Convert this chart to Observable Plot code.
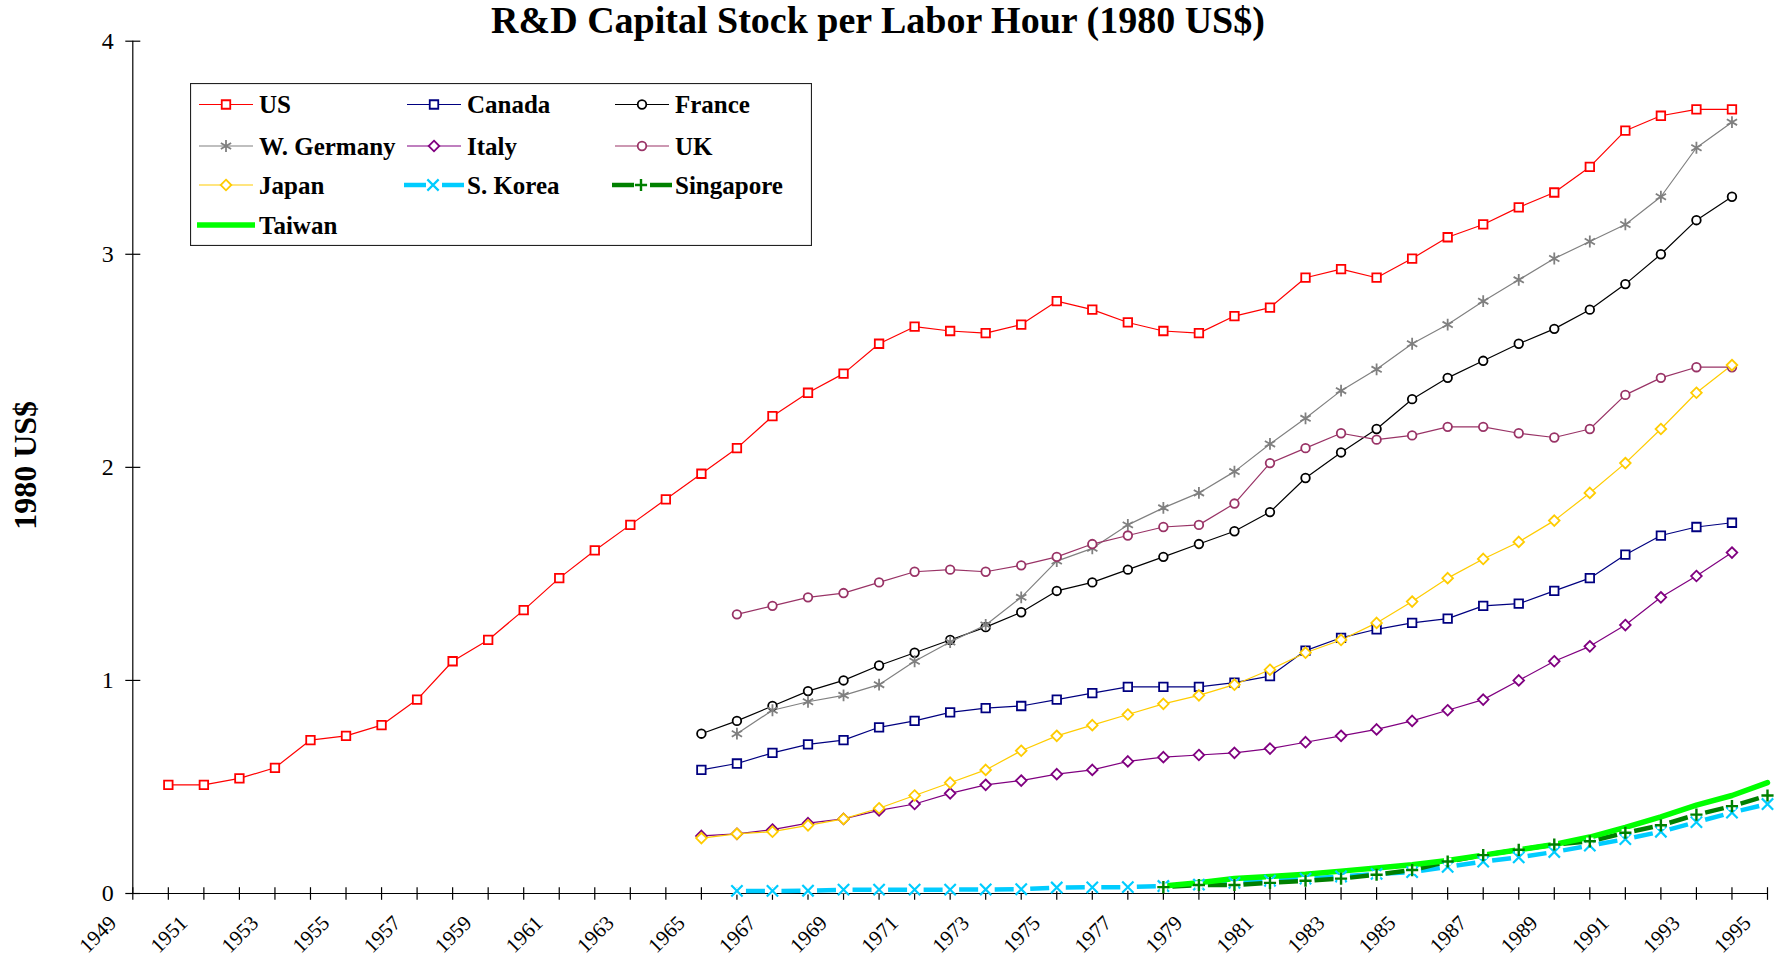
<!DOCTYPE html>
<html><head><meta charset="utf-8">
<script src="https://cdn.jsdelivr.net/npm/d3@7"></script>
<script src="https://cdn.jsdelivr.net/npm/@observablehq/plot@0.6"></script>
<style>
body{margin:0;background:#fff;}
#wrap{position:relative;width:1783px;height:957px;overflow:hidden;font-family:"Liberation Serif","Times New Roman",serif;background:#fff;}
#title{height:36px;position:relative;}
#title div{position:absolute;left:0;top:2px;width:1756px;text-align:center;font-weight:bold;font-size:38px;line-height:36px;white-space:nowrap;}
#legend{position:absolute;left:190px;top:83px;}
</style></head><body>
<div id="wrap"><div id="title"><div>R&amp;D Capital Stock per Labor Hour (1980 US$)</div></div><div id="chart"></div><div id="legend"></div></div>
<script>
// ---------- data ----------
const seriesNames = ["US","Canada","France","W. Germany","Italy","UK","Japan","S. Korea","Singapore","Taiwan"];
const seriesStart = [1950,1965,1965,1966,1965,1966,1965,1966,1978,1978];

const usValues = [0.51,0.51,0.54,0.59,0.72,0.74,0.79,0.91,1.09,1.19,
  1.33,1.48,1.61,1.73,1.85,1.97,2.09,2.24,2.35,2.44,
  2.58,2.66,2.64,2.63,2.67,2.78,2.74,2.68,2.64,2.63,
  2.71,2.75,2.89,2.93,2.89,2.98,3.08,3.14,3.22,3.29,
  3.41,3.58,3.65,3.68,3.68];
const canadaValues = [0.58,0.61,0.66,0.70,0.72,
  0.78,0.81,0.85,0.87,0.88,0.91,0.94,0.97,0.97,0.97,
  0.99,1.02,1.14,1.20,1.24,1.27,1.29,1.35,1.36,1.42,
  1.48,1.59,1.68,1.72,1.74];
const franceValues = [0.75,0.81,0.88,0.95,1.00,
  1.07,1.13,1.19,1.25,1.32,1.42,1.46,1.52,1.58,1.64,
  1.70,1.79,1.95,2.07,2.18,2.32,2.42,2.50,2.58,2.65,
  2.74,2.86,3.00,3.16,3.27];
const germanyValues = [0.75,0.86,0.90,0.93,
  0.98,1.09,1.18,1.26,1.39,1.56,1.62,1.73,1.81,1.88,
  1.98,2.11,2.23,2.36,2.46,2.58,2.67,2.78,2.88,2.98,
  3.06,3.14,3.27,3.50,3.62];
const italyValues = [0.27,0.28,0.30,0.33,0.35,
  0.39,0.42,0.47,0.51,0.53,0.56,0.58,0.62,0.64,0.65,
  0.66,0.68,0.71,0.74,0.77,0.81,0.86,0.91,1.00,1.09,
  1.16,1.26,1.39,1.49,1.60];
const ukValues = [1.31,1.35,1.39,1.41,
  1.46,1.51,1.52,1.51,1.54,1.58,1.64,1.68,1.72,1.73,
  1.83,2.02,2.09,2.16,2.13,2.15,2.19,2.19,2.16,2.14,
  2.18,2.34,2.42,2.47,2.47];
const japanValues = [0.26,0.28,0.29,0.32,0.35,
  0.40,0.46,0.52,0.58,0.67,0.74,0.79,0.84,0.89,0.93,
  0.98,1.05,1.13,1.19,1.27,1.37,1.48,1.57,1.65,1.75,
  1.88,2.02,2.18,2.35,2.48];
const koreaValues = [0.012,0.012,0.013,0.018,
  0.018,0.018,0.018,0.019,0.020,0.028,0.029,0.030,0.035,0.042,
  0.050,0.060,0.070,0.080,0.092,0.100,0.125,0.150,0.170,0.195,
  0.225,0.255,0.290,0.335,0.380,0.420];
const singaporeValues = [0.030,0.040,0.040,0.050,0.060,0.070,0.088,
  0.110,0.150,0.180,0.205,0.230,0.245,0.285,0.320,0.370,0.410,0.460];
const taiwanValues = [0.035,0.050,0.070,0.080,0.090,0.105,0.120,
  0.135,0.155,0.180,0.205,0.230,0.265,0.310,0.360,0.415,0.460,0.520];

const seriesValues = [usValues,canadaValues,franceValues,germanyValues,italyValues,ukValues,japanValues,koreaValues,singaporeValues,taiwanValues];

const xTickYears = [1949,1950,1951,1952,1953,1954,1955,1956,1957,1958,1959,1960,1961,1962,1963,1964,1965,1966,1967,1968,1969,1970,1971,1972,1973,1974,1975,1976,1977,1978,1979,1980,1981,1982,1983,1984,1985,1986,1987,1988,1989,1990,1991,1992,1993,1994,1995];
const xLabelYears = [1949,1951,1953,1955,1957,1959,1961,1963,1965,1967,1969,1971,1973,1975,1977,1979,1981,1983,1985,1987,1989,1991,1993,1995];
const yTickValues = [0,1,2,3,4];

// ---------- styles ----------
const serif = "'Liberation Serif','Times New Roman',serif";
const style = {
  "US":        {color:"#FF0000", symbol:"square",   r:4.8, sw:1.8},
  "Canada":    {color:"#000080", symbol:"square",   r:4.8, sw:1.8},
  "France":    {color:"#000000", symbol:"circle",   r:4.3, sw:1.8},
  "W. Germany":{color:"#808080", symbol:"asterisk", r:5.6, sw:1.8},
  "Italy":     {color:"#800080", symbol:"diamond2", r:4.8, sw:1.8},
  "UK":        {color:"#993366", symbol:"circle",   r:4.3, sw:1.8},
  "Japan":     {color:"#FFCC00", symbol:"diamond2", r:4.8, sw:1.8},
  "S. Korea":  {color:"#00CCFF", symbol:"times",    r:5.2, sw:2.2, dashed:true},
  "Singapore": {color:"#008000", symbol:"plus",     r:4.0, sw:2.4, dashed:true},
  "Taiwan":    {color:"#00FF00", symbol:null,       thick:true}
};

const rows = seriesNames.map((name,k)=>seriesValues[k].map((v,i)=>({series:name, year:seriesStart[k]+i, value:v})));

const vTick = {draw(ctx,size){const r=Math.sqrt(size/Math.PI);ctx.moveTo(0,-r);ctx.lineTo(0,r);}};
const hTick = {draw(ctx,size){const r=Math.sqrt(size/Math.PI);ctx.moveTo(-r,0);ctx.lineTo(r,0);}};

const marks = [];
marks.push(Plot.ruleY([0], {stroke:"#000", strokeWidth:1.2}));
marks.push(Plot.ruleX([1949], {stroke:"#000", strokeWidth:1.2}));
marks.push(Plot.dot(xTickYears, {x:d=>d, y:0, symbol:vTick, r:6.3, stroke:"#000", fill:"none", strokeWidth:1.2}));
marks.push(Plot.dot(yTickValues, {x:1949, y:d=>d, symbol:hTick, r:7.5, stroke:"#000", fill:"none", strokeWidth:1.2}));

rows.forEach((data,k)=>{
  const s = style[seriesNames[k]];
  if (s.dashed) {
    const pairs = d3.pairs(data).map(([a,b])=>({x1:a.year,y1:a.value,x2:b.year,y2:b.value}));
    marks.push(Plot.link(pairs, {x1:"x1",y1:"y1",x2:"x2",y2:"y2", stroke:s.color, strokeWidth:4.5, strokeDasharray:"0,9,19,200", strokeLinecap:"butt"}));
  } else if (s.thick) {
    marks.push(Plot.line(data, {x:"year", y:"value", stroke:s.color, strokeWidth:5.5}));
  } else {
    marks.push(Plot.line(data, {x:"year", y:"value", stroke:s.color, strokeWidth:1.2}));
  }
});
rows.forEach((data,k)=>{
  const s = style[seriesNames[k]];
  if (!s.symbol) return;
  if (s.dashed) marks.push(Plot.dot(data, {x:"year", y:"value", symbol:"square", r:4.2, fill:"white"}));
  const open = (s.symbol==="times"||s.symbol==="plus"||s.symbol==="asterisk");
  marks.push(Plot.dot(data, {x:"year", y:"value", symbol:s.symbol, r:s.r, stroke:s.color, fill: open ? "none" : "white", strokeWidth:s.sw}));
});

marks.push(Plot.text(yTickValues, {x:1949, y:d=>d, text:d=>String(d), textAnchor:"end", dx:-19, fontSize:24, fontFamily:serif, fill:"#000"}));
marks.push(Plot.text(xLabelYears, {x:d=>d, y:0, text:d=>String(d), rotate:-45, textAnchor:"end", dx:-20, dy:26, fontSize:21, fontFamily:serif, fill:"#000"}));
marks.push(Plot.text(["1980 US$"], {frameAnchor:"left", text:d=>d, rotate:-90, textAnchor:"middle", dx:-107, dy:-2, fontSize:32, fontWeight:"bold", fontFamily:serif, fill:"#000"}));

const chart = Plot.plot({
  width:1783, height:921,
  marginLeft:132.3, marginRight:16, marginTop:4.7, marginBottom:64,
  x:{domain:[1949,1995], axis:null},
  y:{domain:[0,4], axis:null},
  style:"background:white;overflow:visible;font-family:'Liberation Serif','Times New Roman',serif;",
  marks
});
document.getElementById("chart").appendChild(chart);

// ---------- legend ----------
const symbolMap = {square:d3.symbolSquare, circle:d3.symbolCircle, asterisk:d3.symbolAsterisk, diamond2:d3.symbolDiamond2, times:d3.symbolTimes, plus:d3.symbolPlus};
const legendW = 622, legendH = 163;
const lsvg = d3.select("#legend").append("svg").attr("width",legendW).attr("height",legendH).style("display","block");
lsvg.append("rect").attr("x",0.5).attr("y",0.5).attr("width",legendW-1).attr("height",legendH-1).attr("fill","white").attr("stroke","#222").attr("stroke-width",1.2);
const colX = [9,217,425], rowY = [21.5,63,102,142];
seriesNames.forEach((name,k)=>{
  const s = style[name];
  const g = lsvg.append("g").attr("transform",`translate(${colX[k%3]},${rowY[Math.floor(k/3)]})`);
  if (s.thick) {
    g.append("line").attr("x1",-2).attr("x2",56).attr("stroke",s.color).attr("stroke-width",5.5);
  } else if (s.dashed) {
    g.append("line").attr("x1",-3).attr("x2",19).attr("stroke",s.color).attr("stroke-width",4.5);
    g.append("line").attr("x1",35).attr("x2",57).attr("stroke",s.color).attr("stroke-width",4.5);
  } else {
    g.append("line").attr("x1",0).attr("x2",54).attr("stroke",s.color).attr("stroke-width",1.2);
  }
  if (s.symbol) {
    const open = (s.symbol==="times"||s.symbol==="plus"||s.symbol==="asterisk");
    g.append("path").attr("transform", s.dashed ? "translate(26,0)" : "translate(27,0)")
      .attr("d", d3.symbol(symbolMap[s.symbol], Math.PI*s.r*s.r)())
      .attr("fill", open ? "none" : "white").attr("stroke", s.color).attr("stroke-width", s.sw);
  }
  g.append("text").attr("x",60).attr("y",8.5).attr("font-size",25).attr("font-weight","bold")
    .attr("font-family",serif).text(name);
});
</script>
</body></html>
